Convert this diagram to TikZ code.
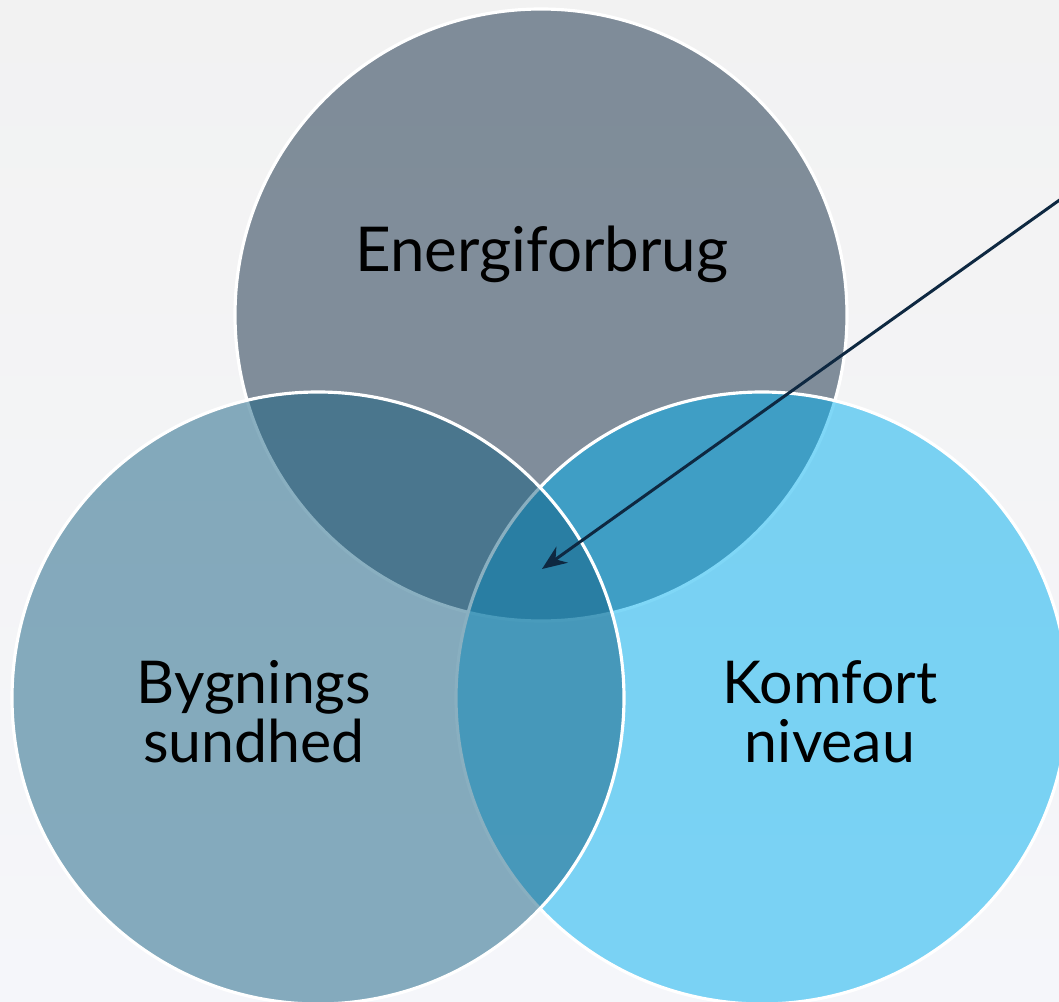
\documentclass[tikz,border=0pt]{standalone}
\usepackage{fontspec}
\setmainfont{Lato}
\usetikzlibrary{arrows.meta}
\definecolor{bgTop}{HTML}{F2F2F2}
\definecolor{bgBottom}{HTML}{F5F6FA}
\definecolor{navyDark}{HTML}{0E2841}
\definecolor{blueAccent}{HTML}{156082}
\definecolor{blueLight}{HTML}{00B0F0}

\begin{document}
\begin{tikzpicture}
	\tikzset{CircleStyle/.style =
		{draw = white,
			shape = circle,
			line width = 0.9pt,
			fill opacity = 0.5,
			minimum size = 6.12cm,
			inner sep = 0pt,
			outer sep = 0pt},
		LabelStyle/.style =
		{align = center,
			text = black,
			font = \fontsize{16.8}{16.9}\selectfont},
		ArrowStyle/.style =
		{draw = navyDark,
			line width = 0.85pt,
			-{Stealth[length=7pt,width=5.6pt]}}}
	% background and frame
	\shade[top color=bgTop, bottom color=bgBottom, use as bounding box] (0,0) rectangle (10.59,10.01);
	\clip (0,0) rectangle (10.59,10.01);
	% circles, drawn top, right, left
	\node[CircleStyle, fill=navyDark] (energy) at (5.41,6.86) {};
	\node[CircleStyle, fill=blueLight] (comfort) at (7.62,3.03) {};
	\node[CircleStyle, fill=blueAccent] (health) at (3.18,3.03) {};
	% labels
	\node[LabelStyle, font=\fontsize{17.6}{18}\selectfont, anchor=base] (energyText) at (5.42,7.29) {Energiforbrug};
	\node[LabelStyle] (healthText) at (2.54,2.89) {Bygnings\\sundhed};
	\node[LabelStyle] (comfortText) at (8.30,2.89) {Komfort\\niveau};
	% pointer into the middle
	\coordinate (arrowStart) at (10.75,8.12);
	\coordinate (middle) at (5.42,4.32);
	\draw[ArrowStyle] (arrowStart) -- (middle);
\end{tikzpicture}
\end{document}
